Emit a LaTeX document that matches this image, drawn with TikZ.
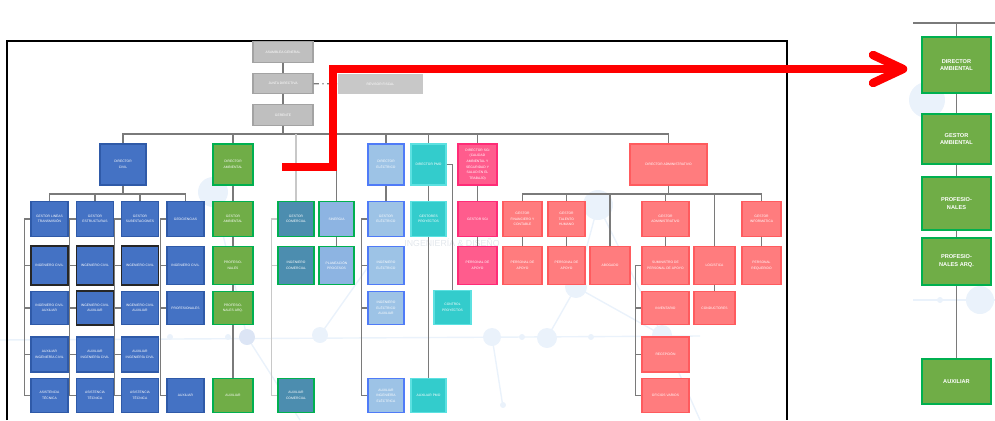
\documentclass[tikz,border=0pt]{standalone}
\usepackage{fontspec}
\setmainfont{Liberation Sans}
\usetikzlibrary{calc,positioning}
\definecolor{grisbox}{HTML}{BFBFBF}
\definecolor{grisline}{HTML}{A3A3A3}
\definecolor{grisrev}{HTML}{C8C8C8}
\definecolor{conn}{HTML}{7A7A7A}
\definecolor{connlight}{HTML}{C8C8C8}
\definecolor{civfill}{HTML}{4472C4}
\definecolor{civline}{HTML}{2F5AA8}
\definecolor{ambfill}{HTML}{70AD47}
\definecolor{ambline}{HTML}{00B050}
\definecolor{comfill}{HTML}{4C8DAF}
\definecolor{sinfill}{HTML}{8DB4E2}
\definecolor{elefill}{HTML}{9DC3E6}
\definecolor{eleline}{HTML}{4F7BF7}
\definecolor{pmofill}{HTML}{33CCCC}
\definecolor{pmoline}{HTML}{5CE1E1}
\definecolor{sgifill}{HTML}{FF5C8D}
\definecolor{sgiline}{HTML}{FF2C77}
\definecolor{admfill}{HTML}{FF7C7E}
\definecolor{admline}{HTML}{FF5B5E}
\definecolor{marca}{HTML}{EAF2FB}
\definecolor{marcaosc}{HTML}{DCE5F5}
\definecolor{marcatxt}{HTML}{E2E7EC}
\definecolor{rojo}{HTML}{FF0000}
\tikzstyle{caja} = [rectangle, inner sep=0pt, align=center, text=white, font=\fontsize{1.9}{3.2}\selectfont, line width=0.8pt, minimum width=0.72cm, minimum height=0.7cm]
\tikzstyle{gris} = [caja, fill=grisbox, draw=grisline, minimum width=1.2cm, minimum height=0.41cm]
\tikzstyle{civ} = [caja, fill=civfill, draw=civline, minimum width=0.74cm]
\tikzstyle{civdk} = [civ, draw=black!85, line width=1.1pt]
\tikzstyle{amb} = [caja, fill=ambfill, draw=ambline, minimum width=0.8cm]
\tikzstyle{com} = [caja, fill=comfill, draw=ambline]
\tikzstyle{sinerg} = [caja, fill=sinfill, draw=ambline, minimum width=0.7cm]
\tikzstyle{ele} = [caja, fill=elefill, draw=eleline]
\tikzstyle{pmo} = [caja, fill=pmofill, draw=pmoline, minimum width=0.7cm]
\tikzstyle{sgi} = [caja, fill=sgifill, draw=sgiline, minimum width=0.78cm]
\tikzstyle{adm} = [caja, fill=admfill, draw=admline, minimum width=0.78cm]
\tikzstyle{dir} = [minimum height=0.82cm]
\tikzstyle{alto} = [minimum height=0.77cm]
\tikzstyle{bajo} = [minimum height=0.67cm]
\tikzstyle{ancho} = [minimum width=0.94cm]
\tikzstyle{ampl} = [amb, minimum width=1.38cm, line width=1.3pt, font=\bfseries\fontsize{3.2}{4.5}\selectfont]
\tikzstyle{conector} = [conn, line width=0.7pt]
\tikzstyle{flecha} = [rojo, line width=0.17cm]
\tikzstyle{marcas} = [marca, line width=0.8pt]

\begin{document}
\begin{tikzpicture}[x=0.02cm, y=-0.02cm]
\useasboundingbox (0,0) rectangle (995,420);
% fondo
\draw [marcas] (0,340) -- (700,336);
\draw [marcas] (913,300) -- (995,300);
\draw [marcas] (213,192) -- (247,337) -- (300,420);
\draw [marcas] (547,338) -- (576,287) -- (598,205) -- (662,335) -- (700,420);
\draw [marcas] (492,337) -- (503,407);
\draw [marcas] (576,287) -- (662,335);
\draw [marcas] (320,335) -- (380,250);
\fill [marca] (213,192) circle (15);
\fill [marcaosc] (247,337) circle (8);
\fill [marca] (320,335) circle (8);
\fill [marca] (170,337) circle (3);
\fill [marca] (228,337) circle (3);
\fill [marca] (598,205) circle (15);
\fill [marca] (576,287) circle (11);
\fill [marca] (547,338) circle (10);
\fill [marca] (662,335) circle (10);
\fill [marca] (492,337) circle (9);
\fill [marca] (522,337) circle (3);
\fill [marca] (591,337) circle (3);
\fill [marca] (503,405) circle (3);
\fill [marca] (980,300) circle (14);
\fill [marca] (940,300) circle (3);
\fill [marca] (927,100) circle (18);
\node (marcatexto) [text=marcatxt, font=\fontsize{5}{6}\selectfont] at (452,243) {INGENIERÍA \& DISEÑO};
% marco
\draw [black, line width=0.85pt] (7,420) -- (7,41) -- (787,41) -- (787,420);

% direccion
\node (asam) [gris] at (283,52) {ASAMBLEA GENERAL};
\node (junta) [gris] at (283,83.5) {JUNTA DIRECTIVA};
\node (ger) [gris] at (283,115) {GERENTE};
\node (rev) [gris, fill=grisrev, draw=none, minimum width=1.7cm] at (380.5,84) {REVISOR FISCAL};

% directores
\node (dciv) [civ, dir, minimum width=0.92cm] at (123,164.5) {DIRECTOR\\CIVIL};
\node (damb) [amb, dir] at (233,164.5) {DIRECTOR\\AMBIENTAL};
\node (delec) [ele, dir] at (386,164.5) {DIRECTOR\\ELÉCTRICO};
\node (dpmo) [pmo, dir] at (428.5,164.5) {DIRECTOR PMO};
\node (dsgi) [sgi, dir] at (477.5,164.5) {DIRECTOR SGI\\(CALIDAD\\AMBIENTAL Y\\SEGURIDAD Y\\SALUD EN EL\\TRABAJO)};
\node (dadm) [adm, dir, minimum width=1.54cm] at (668.5,164.5) {DIRECTOR ADMINISTRATIVO};

% civil
\node (glt) [civ] at (49.5,219) {GESTOR LINEAS\\TRANSMISIÓN};
\node (gest) [civ] at (95,219) {GESTOR\\ESTRUCTURAS};
\node (gsub) [civ] at (140,219) {GESTOR\\SUBESTACIONES};
\node (geo) [civ] at (185.5,219) {GEOCIENCIAS};
\node (ic1) [civdk, alto] at (49.5,265.5) {INGENIERO CIVIL};
\node (ic2) [civdk, alto] at (95,265.5) {INGENIERO CIVIL};
\node (ic3) [civdk, alto] at (140,265.5) {INGENIERO CIVIL};
\node (ic4) [civ, alto] at (185.5,265.5) {INGENIERO CIVIL};
\node (ica1) [civ, bajo] at (49.5,308) {INGENIERO CIVIL\\AUXILIAR};
\node (ica2) [civdk, bajo] at (95,308) {INGENIERO CIVIL\\AUXILIAR};
\node (ica3) [civ, bajo] at (140,308) {INGENIERO CIVIL\\AUXILIAR};
\node (prf4) [civ, bajo] at (185.5,308) {PROFESIONALES};
\node (aic1) [civ] at (49.5,354.5) {AUXILIAR\\INGENIERÍA CIVIL};
\node (aic2) [civ] at (95,354.5) {AUXILIAR\\INGENIERÍA CIVIL};
\node (aic3) [civ] at (140,354.5) {AUXILIAR\\INGENIERÍA CIVIL};
\node (atc1) [civ, bajo] at (49.5,395.5) {ASISTENCIA\\TÉCNICA};
\node (atc2) [civ, bajo] at (95,395.5) {ASISTENCIA\\TÉCNICA};
\node (atc3) [civ, bajo] at (140,395.5) {ASISTENCIA\\TÉCNICA};
\node (aux4) [civ, bajo] at (185.5,395.5) {AUXILIAR};

% ambiental
\node (gamb) [amb] at (233,219) {GESTOR\\AMBIENTAL};
\node (prof) [amb, alto] at (233,265.5) {PROFESIO-\\NALES};
\node (parq) [amb, bajo] at (233,308) {PROFESIO-\\NALES ARQ.};
\node (auxamb) [amb, bajo] at (233,395.5) {AUXILIAR};

% comercial y sinergia
\node (gcom) [com] at (296,219) {GESTOR\\COMERCIAL};
\node (icom) [com, alto] at (296,265.5) {INGENIERO\\COMERCIAL};
\node (auxcom) [com, bajo] at (296,395.5) {AUXILIAR\\COMERCIAL};
\node (sin) [sinerg] at (336.5,219) {SINERGIA};
\node (plan) [sinerg, alto] at (336.5,265.5) {PLANEACIÓN\\PROCESOS};

% electrico
\node (gelec) [ele] at (386,219) {GESTOR\\ELÉCTRICO};
\node (ielec) [ele, alto] at (386,265.5) {INGENIERO\\ELÉCTRICO};
\node (ieaux) [ele, bajo] at (386,308) {INGENIERO\\ELÉCTRICO\\AUXILIAR};
\node (auxel) [ele, bajo] at (386,395.5) {AUXILIAR\\INGENIERÍA\\ELÉCTRICA};

% pmo
\node (gproy) [pmo] at (428.5,219) {GESTORES\\PROYECTOS};
\node (ctrl) [pmo, bajo, minimum width=0.74cm] at (452.5,307.5) {CONTROL\\PROYECTOS};
\node (auxpmo) [pmo, bajo] at (428.5,395.5) {AUXILIAR PMO};

% sgi
\node (gsgi) [sgi] at (477.5,219) {GESTOR SGI};
\node (papsgi) [sgi, alto] at (477.5,265.5) {PERSONAL DE\\APOYO};

% administrativo
\node (gfin) [adm] at (522.5,219) {GESTOR\\FINANCIERO Y\\CONTABLE};
\node (gtal) [adm, minimum width=0.74cm] at (566.5,219) {GESTOR\\TALENTO\\HUMANO};
\node (gadm) [adm, ancho] at (665.5,219) {GESTOR\\ADMINISTRATIVO};
\node (ginf) [adm] at (761.5,219) {GESTOR\\INFORMÁTICA};
\node (pap1) [adm, alto] at (522.5,265.5) {PERSONAL DE\\APOYO};
\node (pap2) [adm, alto, minimum width=0.74cm] at (566.5,265.5) {PERSONAL DE\\APOYO};
\node (abog) [adm, alto, minimum width=0.8cm] at (610,265.5) {ABOGADO};
\node (sum) [adm, alto, ancho] at (665.5,265.5) {SUMINISTRO DE\\PERSONAL DE APOYO};
\node (log) [adm, alto, minimum width=0.82cm] at (714.5,265.5) {LOGÍSTICA};
\node (preq) [adm, alto] at (761.5,265.5) {PERSONAL\\REQUERIDO};
\node (inv) [adm, bajo, ancho] at (665.5,308) {INVENTARIO};
\node (cond) [adm, bajo, minimum width=0.82cm] at (714.5,308) {CONDUCTORES};
\node (rec) [adm, ancho] at (665.5,354.5) {RECEPCIÓN};
\node (ofi) [adm, bajo, ancho] at (665.5,395.5) {OFICIOS VARIOS};

% ampliacion ambiental
\node (rdir) [ampl, minimum height=1.12cm] at (956.5,65) {DIRECTOR\\AMBIENTAL};
\node (rgam) [ampl, minimum height=1cm] at (956.5,139) {GESTOR\\AMBIENTAL};
\node (rprof) [ampl, minimum height=1.06cm] at (956.5,203.5) {PROFESIO-\\NALES};
\node (rparq) [ampl, minimum height=0.94cm] at (956.5,261.5) {PROFESIO-\\NALES ARQ.};
\node (raux) [ampl, minimum height=0.9cm] at (956.5,381.5) {AUXILIAR};

% lineas direccion
\coordinate (bus) at (0,134);
\coordinate (bciv) at (0,194);
\coordinate (badm) at (0,194);
\draw [conector] (asam) -- (junta);
\draw [conector] (junta) -- (ger);
\draw [conector, dash dot] (junta) -- (rev);
\draw [conector] (ger.south) -- (ger.south |- bus);
\draw [conector] (dciv.north) -- (dciv.north |- bus) -- (dadm.north |- bus) -- (dadm.north);
\draw [conector] (damb.north) -- (damb.north |- bus);
\draw [conector, connlight] (gcom.north) -- (gcom.north |- bus);
\draw [conector] (sin.north) -- (sin.north |- bus);
\draw [conector] (delec.north) -- (delec.north |- bus);
\draw [conector] (dpmo.north) -- (dpmo.north |- bus);
\draw [conector] (dsgi.north) -- (dsgi.north |- bus);

% lineas civil
\draw [conector] (dciv.south) -- (dciv.south |- bciv);
\draw [conector] (glt.north) -- (glt.north |- bciv) -- (geo.north |- bciv) -- (geo.north);
\draw [conector] (gest.north) -- (gest.north |- bciv);
\draw [conector] (gsub.north) -- (gsub.north |- bciv);
\draw [conector] (glt.west) -- ++(-6,0) |- (atc1.west);
\draw [conector] (glt.west) ++(-6,0) |- (ic1.west);
\draw [conector] (glt.west) ++(-6,0) |- (ica1.west);
\draw [conector] (glt.west) ++(-6,0) |- (aic1.west);
\draw [conector] (gest.west) -- ++(-6,0) |- (atc2.west);
\draw [conector] (gest.west) ++(-6,0) |- (ic2.west);
\draw [conector] (gest.west) ++(-6,0) |- (ica2.west);
\draw [conector] (gest.west) ++(-6,0) |- (aic2.west);
\draw [conector] (gsub.west) -- ++(-6,0) |- (atc3.west);
\draw [conector] (gsub.west) ++(-6,0) |- (ic3.west);
\draw [conector] (gsub.west) ++(-6,0) |- (ica3.west);
\draw [conector] (gsub.west) ++(-6,0) |- (aic3.west);
\draw [conector] (geo.west) -- ++(-6,0) |- (aux4.west);
\draw [conector] (geo.west) ++(-6,0) |- (ic4.west);
\draw [conector] (geo.west) ++(-6,0) |- (prf4.west);

% lineas ambiental
\draw [conector] (damb) -- (gamb);
\draw [conector] (gamb) -- (prof);
\draw [conector] (prof) -- (parq);
\draw [conector] (parq) -- (auxamb);

% lineas comercial, sinergia, electrico
\draw [conector, connlight] (gcom.west) -- ++(-6,0) |- (auxcom.west);
\draw [conector, connlight] (gcom.west) ++(-6,0) |- (icom.west);
\draw [conector] (sin) -- (plan);
\draw [conector] (delec) -- (gelec);
\draw [conector] (gelec.west) -- ++(-6,0) |- (auxel.west);
\draw [conector] (gelec.west) ++(-6,0) |- (ielec.west);
\draw [conector] (gelec.west) ++(-6,0) |- (ieaux.west);

% lineas pmo y sgi
\draw [conector] (dpmo) -- (gproy);
\draw [conector] (gproy) -- (auxpmo);
\draw [conector] (dpmo.east) -| (ctrl.north);
\draw [conector] (dsgi) -- (gsgi);
\draw [conector] (gsgi) -- (papsgi);

% lineas administrativo
\draw [conector] (dadm.south) -- (dadm.south |- badm);
\draw [conector] (gfin.north) -- (gfin.north |- badm) -- (ginf.north |- badm) -- (ginf.north);
\draw [conector] (gtal.north) -- (gtal.north |- badm);
\draw [conector] (abog.north) -- (abog.north |- badm);
\draw [conector] (gadm.north) -- (gadm.north |- badm);
\draw [conector] (log.north) -- (log.north |- badm);
\draw [conector] (gfin) -- (pap1);
\draw [conector] (gtal) -- (pap2);
\draw [conector] (gadm) -- (sum);
\draw [conector] (log) -- (cond);
\draw [conector] (ginf) -- (preq);
\draw [conector] (sum.west) -- ++(-6,0) |- (ofi.west);
\draw [conector] (sum.west) ++(-6,0) |- (inv.west);
\draw [conector] (sum.west) ++(-6,0) |- (rec.west);

% lineas ampliacion
\coordinate (rizq) at (913,23);
\coordinate (rder) at (995,23);
\draw [conector] (rizq) -- (rder);
\draw [conector] (rdir.north |- rizq) -- (rdir.north);
\draw [conector] (rdir) -- (rgam);
\draw [conector] (rgam) -- (rprof);
\draw [conector] (rprof) -- (rparq);
\draw [conector] (rparq) -- (raux);

% flecha roja
\coordinate (ini) at (282,167);
\coordinate (punta) at (903,69);
\draw [flecha] (ini) -- (333,167) -- (333,69) -- ($(punta)+(-7,0)$);
\draw [flecha, line cap=round, line join=round] ($(punta)+(-30,-14)$) -- (punta) -- ($(punta)+(-30,14)$);
\end{tikzpicture}
\end{document}
